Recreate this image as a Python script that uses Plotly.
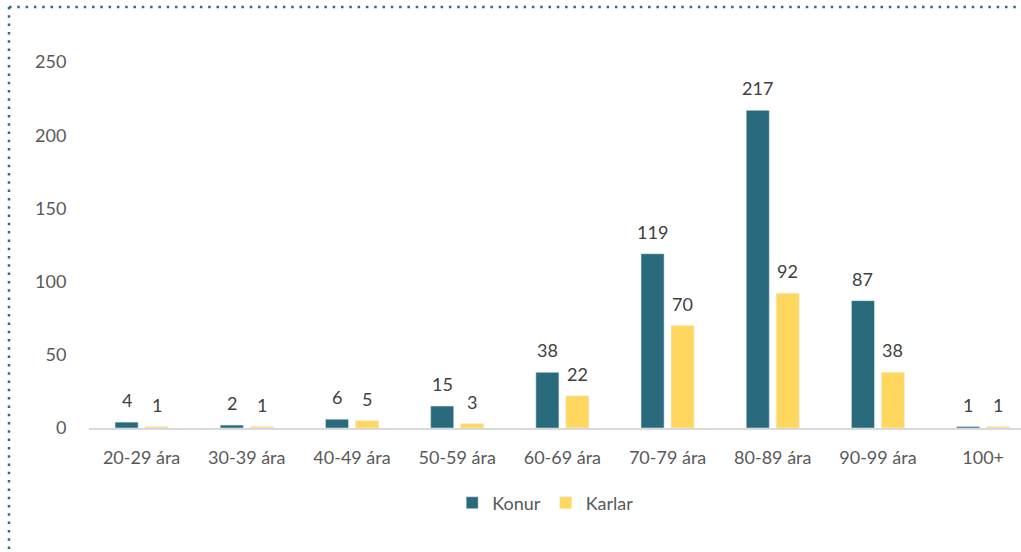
import plotly.graph_objects as go

categories = ["20-29 ára", "30-39 ára", "40-49 ára", "50-59 ára", "60-69 ára",
              "70-79 ára", "80-89 ára", "90-99 ára", "100+"]
konur = [4, 2, 6, 15, 38, 119, 217, 87, 1]
karlar = [1, 1, 5, 3, 22, 70, 92, 38, 1]
y_ticks = [0, 50, 100, 150, 200, 250]

W, H = 1021, 552
L, R, T, B = 89, 0, 62, 124
pw, ph = W - L - R, H - T - B

font_family = "Lato, 'Open Sans', sans-serif"

fig = go.Figure()
fig.add_trace(go.Bar(name="Konur", x=categories, y=konur, marker_color="#296B7D"))
fig.add_trace(go.Bar(name="Karlar", x=categories, y=karlar, marker_color="#FFD75E"))

# data labels above bars
for vals, shift in ((konur, -15), (karlar, 15)):
    for c, v in zip(categories, vals):
        fig.add_annotation(x=c, y=v, xref="x", yref="y", text=str(v), showarrow=False,
                           xshift=shift, yanchor="bottom", yshift=9,
                           font=dict(size=18, color="#404040", family=font_family))

def px_x(p):
    return (p - L) / pw

def px_y(p):
    return (H - B - p) / ph

dot_line = dict(color="#2E6E80", width=2.5, dash="2.5px,5.8px")
fig.add_shape(type="line", xref="paper", yref="paper",
              x0=px_x(9), x1=px_x(W), y0=px_y(7), y1=px_y(7), line=dot_line)
fig.add_shape(type="line", xref="paper", yref="paper",
              x0=px_x(9), x1=px_x(9), y0=px_y(7), y1=px_y(H), line=dot_line)

fig.update_layout(
    width=W, height=H,
    margin=dict(l=L, r=R, t=T, b=B),
    paper_bgcolor="white", plot_bgcolor="white",
    barmode="group", bargap=0.43, bargroupgap=0.23,
    font=dict(family=font_family, size=18, color="#595959"),
    showlegend=True,
    legend=dict(orientation="h", x=0.49, xanchor="center", y=px_y(503), yanchor="middle",
                font=dict(size=18, color="#595959"), itemwidth=30, traceorder="normal"),
    xaxis=dict(range=[-0.5, 8.36], showgrid=False, showline=True, linecolor="#D9D9D9",
               linewidth=1.5, ticks="outside", ticklen=13, tickcolor="rgba(0,0,0,0)",
               tickfont=dict(size=18, color="#595959")),
    yaxis=dict(range=[0, 250], tickvals=y_ticks, showgrid=False, zeroline=False,
               showline=False, ticks="outside", ticklen=18, tickcolor="rgba(0,0,0,0)",
               tickfont=dict(size=18, color="#595959")),
)

fig.write_html("out.html", config={"displayModeBar": False},
               post_script="document.body.style.margin='0';")
